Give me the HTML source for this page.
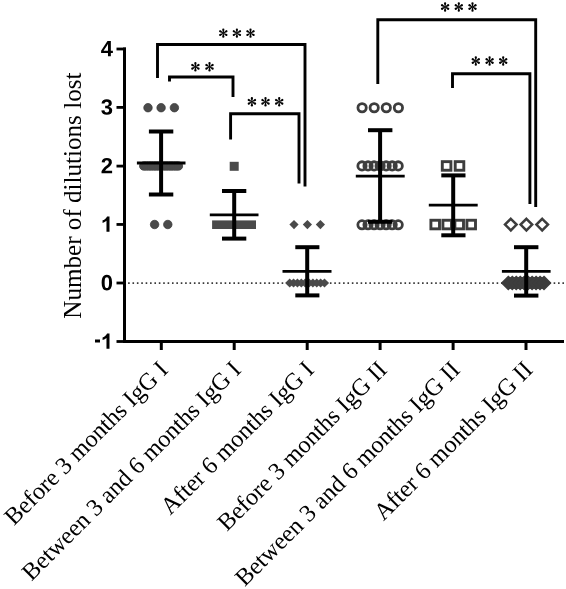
<!DOCTYPE html><html><head><meta charset="utf-8"><style>html,body{margin:0;padding:0;background:#fff;}svg{display:block;will-change:transform;}text{font-family:"Liberation Serif",serif;}</style></head><body>
<svg width="566" height="589" viewBox="0 0 566 589">
<line x1="128.1" y1="283.1" x2="564" y2="283.1" stroke="#3a3a3a" stroke-width="1.6" stroke-dasharray="1.6 2.787"/>
<circle cx="148.00" cy="107.70" r="4.25" fill="#4a4a4a" stroke="#353535" stroke-width="0.7"/>
<circle cx="161.10" cy="107.70" r="4.25" fill="#4a4a4a" stroke="#353535" stroke-width="0.7"/>
<circle cx="174.40" cy="107.70" r="4.25" fill="#4a4a4a" stroke="#353535" stroke-width="0.7"/>
<circle cx="143.80" cy="166.00" r="4.25" fill="#4a4a4a" stroke="#353535" stroke-width="0.7"/>
<circle cx="146.27" cy="166.00" r="4.25" fill="#4a4a4a" stroke="#353535" stroke-width="0.7"/>
<circle cx="148.74" cy="166.00" r="4.25" fill="#4a4a4a" stroke="#353535" stroke-width="0.7"/>
<circle cx="151.21" cy="166.00" r="4.25" fill="#4a4a4a" stroke="#353535" stroke-width="0.7"/>
<circle cx="153.69" cy="166.00" r="4.25" fill="#4a4a4a" stroke="#353535" stroke-width="0.7"/>
<circle cx="156.16" cy="166.00" r="4.25" fill="#4a4a4a" stroke="#353535" stroke-width="0.7"/>
<circle cx="158.63" cy="166.00" r="4.25" fill="#4a4a4a" stroke="#353535" stroke-width="0.7"/>
<circle cx="161.10" cy="166.00" r="4.25" fill="#4a4a4a" stroke="#353535" stroke-width="0.7"/>
<circle cx="163.57" cy="166.00" r="4.25" fill="#4a4a4a" stroke="#353535" stroke-width="0.7"/>
<circle cx="166.04" cy="166.00" r="4.25" fill="#4a4a4a" stroke="#353535" stroke-width="0.7"/>
<circle cx="168.51" cy="166.00" r="4.25" fill="#4a4a4a" stroke="#353535" stroke-width="0.7"/>
<circle cx="170.99" cy="166.00" r="4.25" fill="#4a4a4a" stroke="#353535" stroke-width="0.7"/>
<circle cx="173.46" cy="166.00" r="4.25" fill="#4a4a4a" stroke="#353535" stroke-width="0.7"/>
<circle cx="175.93" cy="166.00" r="4.25" fill="#4a4a4a" stroke="#353535" stroke-width="0.7"/>
<circle cx="178.40" cy="166.00" r="4.25" fill="#4a4a4a" stroke="#353535" stroke-width="0.7"/>
<circle cx="143.80" cy="166" r="4.1" fill="#4a4a4a"/>
<circle cx="146.27" cy="166" r="4.1" fill="#4a4a4a"/>
<circle cx="148.74" cy="166" r="4.1" fill="#4a4a4a"/>
<circle cx="151.21" cy="166" r="4.1" fill="#4a4a4a"/>
<circle cx="153.69" cy="166" r="4.1" fill="#4a4a4a"/>
<circle cx="156.16" cy="166" r="4.1" fill="#4a4a4a"/>
<circle cx="158.63" cy="166" r="4.1" fill="#4a4a4a"/>
<circle cx="161.10" cy="166" r="4.1" fill="#4a4a4a"/>
<circle cx="163.57" cy="166" r="4.1" fill="#4a4a4a"/>
<circle cx="166.04" cy="166" r="4.1" fill="#4a4a4a"/>
<circle cx="168.51" cy="166" r="4.1" fill="#4a4a4a"/>
<circle cx="170.99" cy="166" r="4.1" fill="#4a4a4a"/>
<circle cx="173.46" cy="166" r="4.1" fill="#4a4a4a"/>
<circle cx="175.93" cy="166" r="4.1" fill="#4a4a4a"/>
<circle cx="178.40" cy="166" r="4.1" fill="#4a4a4a"/>
<circle cx="154.60" cy="224.50" r="4.25" fill="#4a4a4a" stroke="#353535" stroke-width="0.7"/>
<circle cx="167.80" cy="224.50" r="4.25" fill="#4a4a4a" stroke="#353535" stroke-width="0.7"/>
<rect x="229.70" y="161.80" width="9" height="9" fill="#4a4a4a"/>
<rect x="212.1" y="220.4" width="43.9" height="8.6" fill="#4a4a4a"/>
<path d="M294.00 220.00L298.60 224.60L294.00 229.20L289.40 224.60Z" fill="#4a4a4a"/>
<path d="M307.40 220.00L312.00 224.60L307.40 229.20L302.80 224.60Z" fill="#4a4a4a"/>
<path d="M320.40 220.00L325.00 224.60L320.40 229.20L315.80 224.60Z" fill="#4a4a4a"/>
<path d="M289.70 278.40L294.30 283.00L289.70 287.60L285.10 283.00Z" fill="#4a4a4a"/>
<path d="M293.57 278.40L298.17 283.00L293.57 287.60L288.97 283.00Z" fill="#4a4a4a"/>
<path d="M297.43 278.40L302.03 283.00L297.43 287.60L292.83 283.00Z" fill="#4a4a4a"/>
<path d="M301.30 278.40L305.90 283.00L301.30 287.60L296.70 283.00Z" fill="#4a4a4a"/>
<path d="M305.17 278.40L309.77 283.00L305.17 287.60L300.57 283.00Z" fill="#4a4a4a"/>
<path d="M309.03 278.40L313.63 283.00L309.03 287.60L304.43 283.00Z" fill="#4a4a4a"/>
<path d="M312.90 278.40L317.50 283.00L312.90 287.60L308.30 283.00Z" fill="#4a4a4a"/>
<path d="M316.77 278.40L321.37 283.00L316.77 287.60L312.17 283.00Z" fill="#4a4a4a"/>
<path d="M320.63 278.40L325.23 283.00L320.63 287.60L316.03 283.00Z" fill="#4a4a4a"/>
<path d="M324.50 278.40L329.10 283.00L324.50 287.60L319.90 283.00Z" fill="#4a4a4a"/>
<circle cx="362.10" cy="107.75" r="4.15" fill="none" stroke="#3d3d3d" stroke-width="2.8"/>
<circle cx="374.20" cy="107.75" r="4.15" fill="none" stroke="#3d3d3d" stroke-width="2.8"/>
<circle cx="386.30" cy="107.75" r="4.15" fill="none" stroke="#3d3d3d" stroke-width="2.8"/>
<circle cx="398.40" cy="107.75" r="4.15" fill="none" stroke="#3d3d3d" stroke-width="2.8"/>
<circle cx="362.00" cy="165.90" r="4.15" fill="none" stroke="#3d3d3d" stroke-width="2.8"/>
<circle cx="368.03" cy="165.90" r="4.15" fill="none" stroke="#3d3d3d" stroke-width="2.8"/>
<circle cx="374.07" cy="165.90" r="4.15" fill="none" stroke="#3d3d3d" stroke-width="2.8"/>
<circle cx="380.10" cy="165.90" r="4.15" fill="none" stroke="#3d3d3d" stroke-width="2.8"/>
<circle cx="386.13" cy="165.90" r="4.15" fill="none" stroke="#3d3d3d" stroke-width="2.8"/>
<circle cx="392.17" cy="165.90" r="4.15" fill="none" stroke="#3d3d3d" stroke-width="2.8"/>
<circle cx="398.20" cy="165.90" r="4.15" fill="none" stroke="#3d3d3d" stroke-width="2.8"/>
<circle cx="362.00" cy="224.80" r="4.15" fill="none" stroke="#3d3d3d" stroke-width="2.8"/>
<circle cx="368.03" cy="224.80" r="4.15" fill="none" stroke="#3d3d3d" stroke-width="2.8"/>
<circle cx="374.07" cy="224.80" r="4.15" fill="none" stroke="#3d3d3d" stroke-width="2.8"/>
<circle cx="380.10" cy="224.80" r="4.15" fill="none" stroke="#3d3d3d" stroke-width="2.8"/>
<circle cx="386.13" cy="224.80" r="4.15" fill="none" stroke="#3d3d3d" stroke-width="2.8"/>
<circle cx="392.17" cy="224.80" r="4.15" fill="none" stroke="#3d3d3d" stroke-width="2.8"/>
<circle cx="398.20" cy="224.80" r="4.15" fill="none" stroke="#3d3d3d" stroke-width="2.8"/>
<rect x="442.30" y="161.65" width="8.6" height="8.6" fill="none" stroke="#3d3d3d" stroke-width="2.9"/>
<rect x="455.20" y="161.65" width="8.6" height="8.6" fill="none" stroke="#3d3d3d" stroke-width="2.9"/>
<rect x="430.90" y="220.25" width="8.6" height="8.6" fill="none" stroke="#3d3d3d" stroke-width="2.9"/>
<rect x="442.90" y="220.25" width="8.6" height="8.6" fill="none" stroke="#3d3d3d" stroke-width="2.9"/>
<rect x="454.90" y="220.25" width="8.6" height="8.6" fill="none" stroke="#3d3d3d" stroke-width="2.9"/>
<rect x="466.90" y="220.25" width="8.6" height="8.6" fill="none" stroke="#3d3d3d" stroke-width="2.9"/>
<path d="M510.80 218.80L516.60 224.60L510.80 230.40L505.00 224.60Z" fill="none" stroke="#3d3d3d" stroke-width="2.5" stroke-linejoin="miter"/>
<path d="M526.40 218.80L532.20 224.60L526.40 230.40L520.60 224.60Z" fill="none" stroke="#3d3d3d" stroke-width="2.5" stroke-linejoin="miter"/>
<path d="M542.20 218.80L548.00 224.60L542.20 230.40L536.40 224.60Z" fill="none" stroke="#3d3d3d" stroke-width="2.5" stroke-linejoin="miter"/>
<path d="M502.5 283L508.3 277.2H544.0L549.8 283L544.0 288.8H508.3Z" fill="#3d3d3d"/>
<path d="M508.30 277.20L514.10 283.00L508.30 288.80L502.50 283.00Z" fill="none" stroke="#3d3d3d" stroke-width="2.5" stroke-linejoin="miter"/>
<path d="M512.27 277.20L518.07 283.00L512.27 288.80L506.47 283.00Z" fill="none" stroke="#3d3d3d" stroke-width="2.5" stroke-linejoin="miter"/>
<path d="M516.23 277.20L522.03 283.00L516.23 288.80L510.43 283.00Z" fill="none" stroke="#3d3d3d" stroke-width="2.5" stroke-linejoin="miter"/>
<path d="M520.20 277.20L526.00 283.00L520.20 288.80L514.40 283.00Z" fill="none" stroke="#3d3d3d" stroke-width="2.5" stroke-linejoin="miter"/>
<path d="M524.17 277.20L529.97 283.00L524.17 288.80L518.37 283.00Z" fill="none" stroke="#3d3d3d" stroke-width="2.5" stroke-linejoin="miter"/>
<path d="M528.13 277.20L533.93 283.00L528.13 288.80L522.33 283.00Z" fill="none" stroke="#3d3d3d" stroke-width="2.5" stroke-linejoin="miter"/>
<path d="M532.10 277.20L537.90 283.00L532.10 288.80L526.30 283.00Z" fill="none" stroke="#3d3d3d" stroke-width="2.5" stroke-linejoin="miter"/>
<path d="M536.07 277.20L541.87 283.00L536.07 288.80L530.27 283.00Z" fill="none" stroke="#3d3d3d" stroke-width="2.5" stroke-linejoin="miter"/>
<path d="M540.03 277.20L545.83 283.00L540.03 288.80L534.23 283.00Z" fill="none" stroke="#3d3d3d" stroke-width="2.5" stroke-linejoin="miter"/>
<path d="M544.00 277.20L549.80 283.00L544.00 288.80L538.20 283.00Z" fill="none" stroke="#3d3d3d" stroke-width="2.5" stroke-linejoin="miter"/>
<line x1="136.9" y1="163.0" x2="185.5" y2="163.0" stroke="#000" stroke-width="2.8"/>
<line x1="161.1" y1="131.5" x2="161.1" y2="194.5" stroke="#000" stroke-width="4"/>
<line x1="148.9" y1="131.5" x2="173.3" y2="131.5" stroke="#000" stroke-width="4"/>
<line x1="148.9" y1="194.5" x2="173.3" y2="194.5" stroke="#000" stroke-width="4"/>
<line x1="209.8" y1="214.8" x2="258.5" y2="214.8" stroke="#000" stroke-width="2.8"/>
<line x1="234.2" y1="191.0" x2="234.2" y2="238.6" stroke="#000" stroke-width="4"/>
<line x1="222.0" y1="191.0" x2="246.3" y2="191.0" stroke="#000" stroke-width="4"/>
<line x1="222.0" y1="238.6" x2="246.3" y2="238.6" stroke="#000" stroke-width="4"/>
<line x1="282.5" y1="271.3" x2="331.5" y2="271.3" stroke="#000" stroke-width="2.8"/>
<line x1="307.2" y1="247.2" x2="307.2" y2="295.4" stroke="#000" stroke-width="4"/>
<line x1="295.3" y1="247.2" x2="319.4" y2="247.2" stroke="#000" stroke-width="4"/>
<line x1="295.3" y1="295.4" x2="319.4" y2="295.4" stroke="#000" stroke-width="4"/>
<line x1="355.8" y1="176.2" x2="404.7" y2="176.2" stroke="#000" stroke-width="2.8"/>
<line x1="380.1" y1="130.2" x2="380.1" y2="221.8" stroke="#000" stroke-width="4"/>
<line x1="368.0" y1="130.2" x2="392.4" y2="130.2" stroke="#000" stroke-width="4"/>
<line x1="368.0" y1="221.8" x2="392.4" y2="221.8" stroke="#000" stroke-width="4"/>
<line x1="428.8" y1="205.2" x2="477.7" y2="205.2" stroke="#000" stroke-width="2.8"/>
<line x1="453.2" y1="175.4" x2="453.2" y2="235.3" stroke="#000" stroke-width="4"/>
<line x1="441.3" y1="175.4" x2="465.5" y2="175.4" stroke="#000" stroke-width="4"/>
<line x1="441.3" y1="235.3" x2="465.5" y2="235.3" stroke="#000" stroke-width="4"/>
<line x1="501.9" y1="271.3" x2="550.6" y2="271.3" stroke="#000" stroke-width="2.8"/>
<line x1="526.2" y1="247.2" x2="526.2" y2="295.6" stroke="#000" stroke-width="4"/>
<line x1="514.0" y1="247.2" x2="538.4" y2="247.2" stroke="#000" stroke-width="4"/>
<line x1="514.0" y1="295.6" x2="538.4" y2="295.6" stroke="#000" stroke-width="4"/>
<path d="M157.5 78V44.5H305V186.6" fill="none" stroke="#000" stroke-width="2.9" stroke-linejoin="miter"/>
<path d="M169.5 81.5V77H233V97" fill="none" stroke="#000" stroke-width="2.9" stroke-linejoin="miter"/>
<path d="M230.6 139.4V113.7H299V183.4" fill="none" stroke="#000" stroke-width="2.9" stroke-linejoin="miter"/>
<path d="M377.8 83.9V19.8H535.7V206.9" fill="none" stroke="#000" stroke-width="2.9" stroke-linejoin="miter"/>
<path d="M452.5 88V73.8H529.9V203.9" fill="none" stroke="#000" stroke-width="2.9" stroke-linejoin="miter"/>
<g fill="#000">
<circle cx="223.30" cy="33.10" r="0.75"/><path transform="translate(223.30 33.10) rotate(-90)" d="M0.15 -0.28L3.412 -1.064A1.08 1.08 0 1 1 3.412 1.064L0.15 0.28Z"/><path transform="translate(223.30 33.10) rotate(-30)" d="M0.15 -0.28L3.412 -1.064A1.08 1.08 0 1 1 3.412 1.064L0.15 0.28Z"/><path transform="translate(223.30 33.10) rotate(30)" d="M0.15 -0.28L3.412 -1.064A1.08 1.08 0 1 1 3.412 1.064L0.15 0.28Z"/><path transform="translate(223.30 33.10) rotate(90)" d="M0.15 -0.28L3.412 -1.064A1.08 1.08 0 1 1 3.412 1.064L0.15 0.28Z"/><path transform="translate(223.30 33.10) rotate(150)" d="M0.15 -0.28L3.412 -1.064A1.08 1.08 0 1 1 3.412 1.064L0.15 0.28Z"/><path transform="translate(223.30 33.10) rotate(210)" d="M0.15 -0.28L3.412 -1.064A1.08 1.08 0 1 1 3.412 1.064L0.15 0.28Z"/>
<circle cx="236.90" cy="33.10" r="0.75"/><path transform="translate(236.90 33.10) rotate(-90)" d="M0.15 -0.28L3.412 -1.064A1.08 1.08 0 1 1 3.412 1.064L0.15 0.28Z"/><path transform="translate(236.90 33.10) rotate(-30)" d="M0.15 -0.28L3.412 -1.064A1.08 1.08 0 1 1 3.412 1.064L0.15 0.28Z"/><path transform="translate(236.90 33.10) rotate(30)" d="M0.15 -0.28L3.412 -1.064A1.08 1.08 0 1 1 3.412 1.064L0.15 0.28Z"/><path transform="translate(236.90 33.10) rotate(90)" d="M0.15 -0.28L3.412 -1.064A1.08 1.08 0 1 1 3.412 1.064L0.15 0.28Z"/><path transform="translate(236.90 33.10) rotate(150)" d="M0.15 -0.28L3.412 -1.064A1.08 1.08 0 1 1 3.412 1.064L0.15 0.28Z"/><path transform="translate(236.90 33.10) rotate(210)" d="M0.15 -0.28L3.412 -1.064A1.08 1.08 0 1 1 3.412 1.064L0.15 0.28Z"/>
<circle cx="250.50" cy="33.10" r="0.75"/><path transform="translate(250.50 33.10) rotate(-90)" d="M0.15 -0.28L3.412 -1.064A1.08 1.08 0 1 1 3.412 1.064L0.15 0.28Z"/><path transform="translate(250.50 33.10) rotate(-30)" d="M0.15 -0.28L3.412 -1.064A1.08 1.08 0 1 1 3.412 1.064L0.15 0.28Z"/><path transform="translate(250.50 33.10) rotate(30)" d="M0.15 -0.28L3.412 -1.064A1.08 1.08 0 1 1 3.412 1.064L0.15 0.28Z"/><path transform="translate(250.50 33.10) rotate(90)" d="M0.15 -0.28L3.412 -1.064A1.08 1.08 0 1 1 3.412 1.064L0.15 0.28Z"/><path transform="translate(250.50 33.10) rotate(150)" d="M0.15 -0.28L3.412 -1.064A1.08 1.08 0 1 1 3.412 1.064L0.15 0.28Z"/><path transform="translate(250.50 33.10) rotate(210)" d="M0.15 -0.28L3.412 -1.064A1.08 1.08 0 1 1 3.412 1.064L0.15 0.28Z"/>
<circle cx="195.40" cy="66.80" r="0.75"/><path transform="translate(195.40 66.80) rotate(-90)" d="M0.15 -0.28L3.412 -1.064A1.08 1.08 0 1 1 3.412 1.064L0.15 0.28Z"/><path transform="translate(195.40 66.80) rotate(-30)" d="M0.15 -0.28L3.412 -1.064A1.08 1.08 0 1 1 3.412 1.064L0.15 0.28Z"/><path transform="translate(195.40 66.80) rotate(30)" d="M0.15 -0.28L3.412 -1.064A1.08 1.08 0 1 1 3.412 1.064L0.15 0.28Z"/><path transform="translate(195.40 66.80) rotate(90)" d="M0.15 -0.28L3.412 -1.064A1.08 1.08 0 1 1 3.412 1.064L0.15 0.28Z"/><path transform="translate(195.40 66.80) rotate(150)" d="M0.15 -0.28L3.412 -1.064A1.08 1.08 0 1 1 3.412 1.064L0.15 0.28Z"/><path transform="translate(195.40 66.80) rotate(210)" d="M0.15 -0.28L3.412 -1.064A1.08 1.08 0 1 1 3.412 1.064L0.15 0.28Z"/>
<circle cx="209.50" cy="66.80" r="0.75"/><path transform="translate(209.50 66.80) rotate(-90)" d="M0.15 -0.28L3.412 -1.064A1.08 1.08 0 1 1 3.412 1.064L0.15 0.28Z"/><path transform="translate(209.50 66.80) rotate(-30)" d="M0.15 -0.28L3.412 -1.064A1.08 1.08 0 1 1 3.412 1.064L0.15 0.28Z"/><path transform="translate(209.50 66.80) rotate(30)" d="M0.15 -0.28L3.412 -1.064A1.08 1.08 0 1 1 3.412 1.064L0.15 0.28Z"/><path transform="translate(209.50 66.80) rotate(90)" d="M0.15 -0.28L3.412 -1.064A1.08 1.08 0 1 1 3.412 1.064L0.15 0.28Z"/><path transform="translate(209.50 66.80) rotate(150)" d="M0.15 -0.28L3.412 -1.064A1.08 1.08 0 1 1 3.412 1.064L0.15 0.28Z"/><path transform="translate(209.50 66.80) rotate(210)" d="M0.15 -0.28L3.412 -1.064A1.08 1.08 0 1 1 3.412 1.064L0.15 0.28Z"/>
<circle cx="251.90" cy="101.80" r="0.75"/><path transform="translate(251.90 101.80) rotate(-90)" d="M0.15 -0.28L3.412 -1.064A1.08 1.08 0 1 1 3.412 1.064L0.15 0.28Z"/><path transform="translate(251.90 101.80) rotate(-30)" d="M0.15 -0.28L3.412 -1.064A1.08 1.08 0 1 1 3.412 1.064L0.15 0.28Z"/><path transform="translate(251.90 101.80) rotate(30)" d="M0.15 -0.28L3.412 -1.064A1.08 1.08 0 1 1 3.412 1.064L0.15 0.28Z"/><path transform="translate(251.90 101.80) rotate(90)" d="M0.15 -0.28L3.412 -1.064A1.08 1.08 0 1 1 3.412 1.064L0.15 0.28Z"/><path transform="translate(251.90 101.80) rotate(150)" d="M0.15 -0.28L3.412 -1.064A1.08 1.08 0 1 1 3.412 1.064L0.15 0.28Z"/><path transform="translate(251.90 101.80) rotate(210)" d="M0.15 -0.28L3.412 -1.064A1.08 1.08 0 1 1 3.412 1.064L0.15 0.28Z"/>
<circle cx="265.50" cy="101.80" r="0.75"/><path transform="translate(265.50 101.80) rotate(-90)" d="M0.15 -0.28L3.412 -1.064A1.08 1.08 0 1 1 3.412 1.064L0.15 0.28Z"/><path transform="translate(265.50 101.80) rotate(-30)" d="M0.15 -0.28L3.412 -1.064A1.08 1.08 0 1 1 3.412 1.064L0.15 0.28Z"/><path transform="translate(265.50 101.80) rotate(30)" d="M0.15 -0.28L3.412 -1.064A1.08 1.08 0 1 1 3.412 1.064L0.15 0.28Z"/><path transform="translate(265.50 101.80) rotate(90)" d="M0.15 -0.28L3.412 -1.064A1.08 1.08 0 1 1 3.412 1.064L0.15 0.28Z"/><path transform="translate(265.50 101.80) rotate(150)" d="M0.15 -0.28L3.412 -1.064A1.08 1.08 0 1 1 3.412 1.064L0.15 0.28Z"/><path transform="translate(265.50 101.80) rotate(210)" d="M0.15 -0.28L3.412 -1.064A1.08 1.08 0 1 1 3.412 1.064L0.15 0.28Z"/>
<circle cx="279.20" cy="101.80" r="0.75"/><path transform="translate(279.20 101.80) rotate(-90)" d="M0.15 -0.28L3.412 -1.064A1.08 1.08 0 1 1 3.412 1.064L0.15 0.28Z"/><path transform="translate(279.20 101.80) rotate(-30)" d="M0.15 -0.28L3.412 -1.064A1.08 1.08 0 1 1 3.412 1.064L0.15 0.28Z"/><path transform="translate(279.20 101.80) rotate(30)" d="M0.15 -0.28L3.412 -1.064A1.08 1.08 0 1 1 3.412 1.064L0.15 0.28Z"/><path transform="translate(279.20 101.80) rotate(90)" d="M0.15 -0.28L3.412 -1.064A1.08 1.08 0 1 1 3.412 1.064L0.15 0.28Z"/><path transform="translate(279.20 101.80) rotate(150)" d="M0.15 -0.28L3.412 -1.064A1.08 1.08 0 1 1 3.412 1.064L0.15 0.28Z"/><path transform="translate(279.20 101.80) rotate(210)" d="M0.15 -0.28L3.412 -1.064A1.08 1.08 0 1 1 3.412 1.064L0.15 0.28Z"/>
<circle cx="445.10" cy="7.00" r="0.75"/><path transform="translate(445.10 7.00) rotate(-90)" d="M0.15 -0.28L3.412 -1.064A1.08 1.08 0 1 1 3.412 1.064L0.15 0.28Z"/><path transform="translate(445.10 7.00) rotate(-30)" d="M0.15 -0.28L3.412 -1.064A1.08 1.08 0 1 1 3.412 1.064L0.15 0.28Z"/><path transform="translate(445.10 7.00) rotate(30)" d="M0.15 -0.28L3.412 -1.064A1.08 1.08 0 1 1 3.412 1.064L0.15 0.28Z"/><path transform="translate(445.10 7.00) rotate(90)" d="M0.15 -0.28L3.412 -1.064A1.08 1.08 0 1 1 3.412 1.064L0.15 0.28Z"/><path transform="translate(445.10 7.00) rotate(150)" d="M0.15 -0.28L3.412 -1.064A1.08 1.08 0 1 1 3.412 1.064L0.15 0.28Z"/><path transform="translate(445.10 7.00) rotate(210)" d="M0.15 -0.28L3.412 -1.064A1.08 1.08 0 1 1 3.412 1.064L0.15 0.28Z"/>
<circle cx="458.80" cy="7.00" r="0.75"/><path transform="translate(458.80 7.00) rotate(-90)" d="M0.15 -0.28L3.412 -1.064A1.08 1.08 0 1 1 3.412 1.064L0.15 0.28Z"/><path transform="translate(458.80 7.00) rotate(-30)" d="M0.15 -0.28L3.412 -1.064A1.08 1.08 0 1 1 3.412 1.064L0.15 0.28Z"/><path transform="translate(458.80 7.00) rotate(30)" d="M0.15 -0.28L3.412 -1.064A1.08 1.08 0 1 1 3.412 1.064L0.15 0.28Z"/><path transform="translate(458.80 7.00) rotate(90)" d="M0.15 -0.28L3.412 -1.064A1.08 1.08 0 1 1 3.412 1.064L0.15 0.28Z"/><path transform="translate(458.80 7.00) rotate(150)" d="M0.15 -0.28L3.412 -1.064A1.08 1.08 0 1 1 3.412 1.064L0.15 0.28Z"/><path transform="translate(458.80 7.00) rotate(210)" d="M0.15 -0.28L3.412 -1.064A1.08 1.08 0 1 1 3.412 1.064L0.15 0.28Z"/>
<circle cx="472.50" cy="7.00" r="0.75"/><path transform="translate(472.50 7.00) rotate(-90)" d="M0.15 -0.28L3.412 -1.064A1.08 1.08 0 1 1 3.412 1.064L0.15 0.28Z"/><path transform="translate(472.50 7.00) rotate(-30)" d="M0.15 -0.28L3.412 -1.064A1.08 1.08 0 1 1 3.412 1.064L0.15 0.28Z"/><path transform="translate(472.50 7.00) rotate(30)" d="M0.15 -0.28L3.412 -1.064A1.08 1.08 0 1 1 3.412 1.064L0.15 0.28Z"/><path transform="translate(472.50 7.00) rotate(90)" d="M0.15 -0.28L3.412 -1.064A1.08 1.08 0 1 1 3.412 1.064L0.15 0.28Z"/><path transform="translate(472.50 7.00) rotate(150)" d="M0.15 -0.28L3.412 -1.064A1.08 1.08 0 1 1 3.412 1.064L0.15 0.28Z"/><path transform="translate(472.50 7.00) rotate(210)" d="M0.15 -0.28L3.412 -1.064A1.08 1.08 0 1 1 3.412 1.064L0.15 0.28Z"/>
<circle cx="475.80" cy="61.00" r="0.75"/><path transform="translate(475.80 61.00) rotate(-90)" d="M0.15 -0.28L3.412 -1.064A1.08 1.08 0 1 1 3.412 1.064L0.15 0.28Z"/><path transform="translate(475.80 61.00) rotate(-30)" d="M0.15 -0.28L3.412 -1.064A1.08 1.08 0 1 1 3.412 1.064L0.15 0.28Z"/><path transform="translate(475.80 61.00) rotate(30)" d="M0.15 -0.28L3.412 -1.064A1.08 1.08 0 1 1 3.412 1.064L0.15 0.28Z"/><path transform="translate(475.80 61.00) rotate(90)" d="M0.15 -0.28L3.412 -1.064A1.08 1.08 0 1 1 3.412 1.064L0.15 0.28Z"/><path transform="translate(475.80 61.00) rotate(150)" d="M0.15 -0.28L3.412 -1.064A1.08 1.08 0 1 1 3.412 1.064L0.15 0.28Z"/><path transform="translate(475.80 61.00) rotate(210)" d="M0.15 -0.28L3.412 -1.064A1.08 1.08 0 1 1 3.412 1.064L0.15 0.28Z"/>
<circle cx="489.60" cy="61.00" r="0.75"/><path transform="translate(489.60 61.00) rotate(-90)" d="M0.15 -0.28L3.412 -1.064A1.08 1.08 0 1 1 3.412 1.064L0.15 0.28Z"/><path transform="translate(489.60 61.00) rotate(-30)" d="M0.15 -0.28L3.412 -1.064A1.08 1.08 0 1 1 3.412 1.064L0.15 0.28Z"/><path transform="translate(489.60 61.00) rotate(30)" d="M0.15 -0.28L3.412 -1.064A1.08 1.08 0 1 1 3.412 1.064L0.15 0.28Z"/><path transform="translate(489.60 61.00) rotate(90)" d="M0.15 -0.28L3.412 -1.064A1.08 1.08 0 1 1 3.412 1.064L0.15 0.28Z"/><path transform="translate(489.60 61.00) rotate(150)" d="M0.15 -0.28L3.412 -1.064A1.08 1.08 0 1 1 3.412 1.064L0.15 0.28Z"/><path transform="translate(489.60 61.00) rotate(210)" d="M0.15 -0.28L3.412 -1.064A1.08 1.08 0 1 1 3.412 1.064L0.15 0.28Z"/>
<circle cx="503.20" cy="61.00" r="0.75"/><path transform="translate(503.20 61.00) rotate(-90)" d="M0.15 -0.28L3.412 -1.064A1.08 1.08 0 1 1 3.412 1.064L0.15 0.28Z"/><path transform="translate(503.20 61.00) rotate(-30)" d="M0.15 -0.28L3.412 -1.064A1.08 1.08 0 1 1 3.412 1.064L0.15 0.28Z"/><path transform="translate(503.20 61.00) rotate(30)" d="M0.15 -0.28L3.412 -1.064A1.08 1.08 0 1 1 3.412 1.064L0.15 0.28Z"/><path transform="translate(503.20 61.00) rotate(90)" d="M0.15 -0.28L3.412 -1.064A1.08 1.08 0 1 1 3.412 1.064L0.15 0.28Z"/><path transform="translate(503.20 61.00) rotate(150)" d="M0.15 -0.28L3.412 -1.064A1.08 1.08 0 1 1 3.412 1.064L0.15 0.28Z"/><path transform="translate(503.20 61.00) rotate(210)" d="M0.15 -0.28L3.412 -1.064A1.08 1.08 0 1 1 3.412 1.064L0.15 0.28Z"/>
</g>
<line x1="124.5" y1="47.6" x2="124.5" y2="343" stroke="#000" stroke-width="3"/>
<line x1="123" y1="341.5" x2="564" y2="341.5" stroke="#000" stroke-width="3"/>
<line x1="116.5" y1="49.0" x2="126" y2="49.0" stroke="#000" stroke-width="2.8"/>
<line x1="116.5" y1="107.4" x2="126" y2="107.4" stroke="#000" stroke-width="2.8"/>
<line x1="116.5" y1="166.1" x2="126" y2="166.1" stroke="#000" stroke-width="2.8"/>
<line x1="116.5" y1="224.45" x2="126" y2="224.45" stroke="#000" stroke-width="2.8"/>
<line x1="116.5" y1="283.0" x2="126" y2="283.0" stroke="#000" stroke-width="2.8"/>
<line x1="116.5" y1="341.5" x2="126" y2="341.5" stroke="#000" stroke-width="2.8"/>
<line x1="161.3" y1="341" x2="161.3" y2="350" stroke="#000" stroke-width="3"/>
<line x1="234.2" y1="341" x2="234.2" y2="350" stroke="#000" stroke-width="3"/>
<line x1="307.2" y1="341" x2="307.2" y2="350" stroke="#000" stroke-width="3"/>
<line x1="380.1" y1="341" x2="380.1" y2="350" stroke="#000" stroke-width="3"/>
<line x1="453.1" y1="341" x2="453.1" y2="350" stroke="#000" stroke-width="3"/>
<line x1="526.0" y1="341" x2="526.0" y2="350" stroke="#000" stroke-width="3"/>
<path transform="translate(100.76 56.20) scale(0.010742 -0.010742)" d="M940 287V0H672V287H31V498L626 1409H940V496H1128V287ZM672 957Q672 1011 675.5 1074.0Q679 1137 681 1155Q655 1099 587 993L260 496H672Z"/>
<path transform="translate(100.76 114.60) scale(0.010742 -0.010742)" d="M1065 391Q1065 193 935.0 85.0Q805 -23 565 -23Q338 -23 204.0 81.5Q70 186 47 383L333 408Q360 205 564 205Q665 205 721.0 255.0Q777 305 777 408Q777 502 709.0 552.0Q641 602 507 602H409V829H501Q622 829 683.0 878.5Q744 928 744 1020Q744 1107 695.5 1156.5Q647 1206 554 1206Q467 1206 413.5 1158.0Q360 1110 352 1022L71 1042Q93 1224 222.0 1327.0Q351 1430 559 1430Q780 1430 904.5 1330.5Q1029 1231 1029 1055Q1029 923 951.5 838.0Q874 753 728 725V721Q890 702 977.5 614.5Q1065 527 1065 391Z"/>
<path transform="translate(100.76 173.30) scale(0.010742 -0.010742)" d="M71 0V195Q126 316 227.5 431.0Q329 546 483 671Q631 791 690.5 869.0Q750 947 750 1022Q750 1206 565 1206Q475 1206 427.5 1157.5Q380 1109 366 1012L83 1028Q107 1224 229.5 1327.0Q352 1430 563 1430Q791 1430 913.0 1326.0Q1035 1222 1035 1034Q1035 935 996.0 855.0Q957 775 896.0 707.5Q835 640 760.5 581.0Q686 522 616.0 466.0Q546 410 488.5 353.0Q431 296 403 231H1057V0Z"/>
<path transform="translate(101.30 231.65) scale(0.010742 -0.010742)" d="M763 0H482V1005C380 910 258 850 119 803V1050C192 1074 272 1118 358 1185C444 1252 503 1329 535 1409H763Z"/>
<path transform="translate(100.76 290.20) scale(0.010742 -0.010742)" d="M1055 705Q1055 348 932.5 164.0Q810 -20 565 -20Q81 -20 81 705Q81 958 134.0 1118.0Q187 1278 293.0 1354.0Q399 1430 573 1430Q823 1430 939.0 1249.0Q1055 1068 1055 705ZM773 705Q773 900 754.0 1008.0Q735 1116 693.0 1163.0Q651 1210 571 1210Q486 1210 442.5 1162.5Q399 1115 380.5 1007.5Q362 900 362 705Q362 512 381.5 403.5Q401 295 443.5 248.0Q486 201 567 201Q647 201 690.5 250.5Q734 300 753.5 409.0Q773 518 773 705Z"/>
<path transform="translate(101.30 348.70) scale(0.010742 -0.010742)" d="M763 0H482V1005C380 910 258 850 119 803V1050C192 1074 272 1118 358 1185C444 1252 503 1329 535 1409H763Z"/>
<rect x="95.0" y="339.50" width="5.0" height="3.0"/>
<text transform="translate(81.4 195.6) rotate(-90)" font-size="25.1" text-anchor="middle">Number of dilutions lost</text>
<text transform="translate(169.3 371.0) rotate(-45)" font-size="24.28" text-anchor="end">Before 3 months IgG I</text>
<text transform="translate(242.2 371.0) rotate(-45)" font-size="24.28" text-anchor="end">Between 3 and 6 months IgG I</text>
<text transform="translate(315.2 371.0) rotate(-45)" font-size="24.28" text-anchor="end">After 6 months IgG I</text>
<text transform="translate(388.1 371.0) rotate(-45)" font-size="24.28" text-anchor="end">Before 3 months IgG II</text>
<text transform="translate(461.1 371.0) rotate(-45)" font-size="24.28" text-anchor="end">Between 3 and 6 months IgG II</text>
<text transform="translate(534.0 371.0) rotate(-45)" font-size="24.28" text-anchor="end">After 6 months IgG II</text>
</svg></body></html>
